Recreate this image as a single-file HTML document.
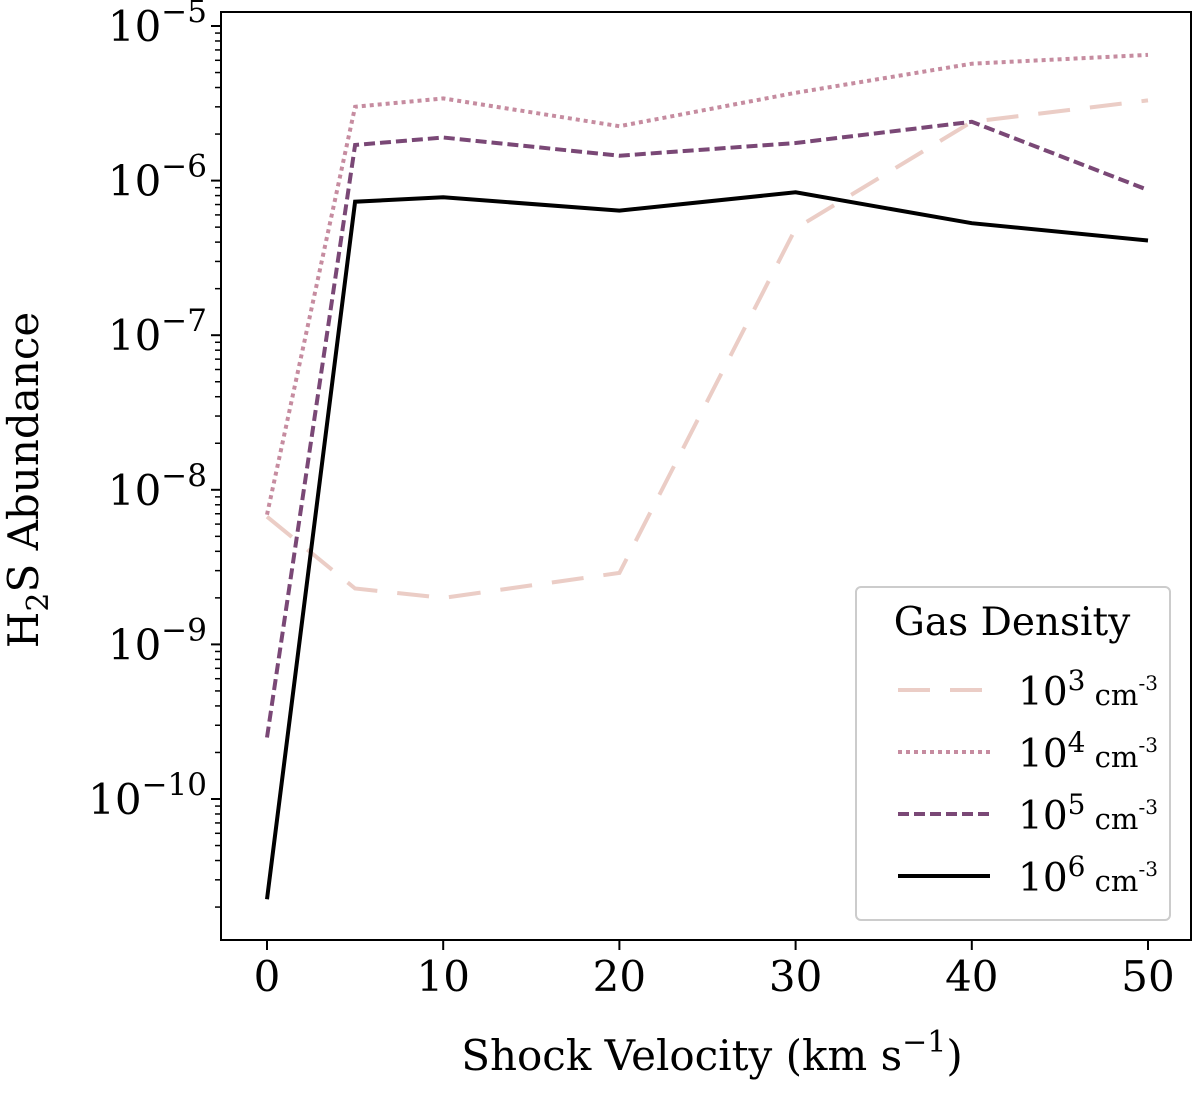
<!DOCTYPE html>
<html><head><meta charset="utf-8"><style>
body{margin:0;background:#fff;}
svg text{font-family:"DejaVu Serif","Liberation Serif",serif;fill:#000;}
</style></head><body>
<svg id="chart" width="1200" height="1090" viewBox="0 0 1200 1090" xmlns="http://www.w3.org/2000/svg">
<g id="marks"></g>
<g id="axes"></g>
</svg>
<script>
const velocities = [0, 5, 10, 20, 30, 40, 50];
const dens1e3 = [6.7e-9, 2.3e-9, 2.0e-9, 2.9e-9, 4.9e-7, 2.4e-6, 3.3e-6];
const dens1e4 = [6.9e-9, 3.0e-6, 3.4e-6, 2.25e-6, 3.7e-6, 5.7e-6, 6.5e-6];
const dens1e5 = [2.5e-10, 1.7e-6, 1.9e-6, 1.45e-6, 1.75e-6, 2.4e-6, 8.7e-7];
const dens1e6 = [2.25e-11, 7.3e-7, 7.8e-7, 6.4e-7, 8.4e-7, 5.3e-7, 4.1e-7];
const xTicks = [0, 10, 20, 30, 40, 50];
const yTickExps = [-10, -9, -8, -7, -6, -5];
const legendExps = ["3", "4", "5", "6"];

const NS = "http://www.w3.org/2000/svg";
const L = 221, R = 1191, T = 12, B = 940;
function xs(v){ return 267 + (v - 0) * (1148 - 267) / 50; }
function ys(v){ return 26 + (-5 - Math.log10(v)) * 154.6; }
function mk(tag, attrs, parent){ const e = document.createElementNS(NS, tag); for (const k in attrs) e.setAttribute(k, attrs[k]); parent.appendChild(e); return e; }

const marks = document.getElementById('marks');
const axes = document.getElementById('axes');
const series = [
  {name:'series-1e3', data:dens1e3, color:'#ebcdc6', dash:'32,20'},
  {name:'series-1e4', data:dens1e4, color:'#c68ca0', dash:'4,4'},
  {name:'series-1e5', data:dens1e5, color:'#7a4876', dash:'11,5'},
  {name:'series-1e6', data:dens1e6, color:'#000000', dash:'none'}
];
series.forEach(s => {
  const pts = velocities.map((v,i) => xs(v).toFixed(1) + ',' + ys(s.data[i]).toFixed(1)).join(' ');
  const pl = mk('polyline', {points:pts, fill:'none', stroke:s.color, 'stroke-width':4, 'stroke-dasharray':s.dash}, marks);
  
  
});

const frame = mk('rect', {x:L, y:T, width:R-L, height:B-T, fill:'none', stroke:'#000', 'stroke-width':2}, axes);



xTicks.forEach(t => {
  const x = xs(t);
  mk('line', {x1:x, y1:B, x2:x, y2:B+10, stroke:'#000', 'stroke-width':2}, axes);
  const tx = mk('text', {x:x, y:B+51, 'font-size':42, 'text-anchor':'middle'}, axes);
  tx.textContent = t;
  
  
});

for (let e = -11; e <= -5; e++) {
  for (let m = 2; m <= 9; m++) {
    const y = ys(m * Math.pow(10, e));
    if (y < T || y > B) continue;
    mk('line', {x1:L-6, y1:y, x2:L, y2:y, stroke:'#000', 'stroke-width':1.5}, axes);
  }
}
yTickExps.forEach(e => {
  const y = ys(Math.pow(10, e));
  mk('line', {x1:L-10, y1:y, x2:L, y2:y, stroke:'#000', 'stroke-width':2}, axes);
  const tx = mk('text', {x:L-14, y:y+15, 'font-size':42, 'text-anchor':'end'}, axes);
  tx.innerHTML = '10<tspan dy="-19" font-size="31">\u2212' + Math.abs(e) + '</tspan>';
  
  
});

const xl = mk('text', {x:712, y:1070, 'font-size':42, 'text-anchor':'middle'}, axes);
xl.innerHTML = 'Shock Velocity  (km s<tspan dy="-18" font-size="30">\u22121</tspan><tspan dy="18">)</tspan>';



const yl = mk('text', {transform:'translate(38,480) rotate(-90)', 'font-size':42, 'text-anchor':'middle'}, axes);
yl.innerHTML = 'H<tspan dy="10" font-size="30">2</tspan><tspan dy="-10">S Abundance</tspan>';



const lg = mk('g', {}, axes);


mk('rect', {x:856, y:587, width:314, height:333, rx:5, fill:'#fff', stroke:'#ccc', 'stroke-width':2, 'fill-opacity':0.85}, lg);
const lt = mk('text', {x:1012, y:635, 'font-size':39, 'text-anchor':'middle'}, lg);
lt.textContent = 'Gas Density';


series.forEach((s, i) => {
  const y = 690 + i * 62;
  const ln = mk('line', {x1:898, y1:y, x2:990, y2:y, stroke:s.color, 'stroke-width':4, 'stroke-dasharray':s.dash}, lg);
  
  
  const tx = mk('text', {x:1018, y:y+15, 'font-size':39}, lg);
  tx.innerHTML = '10<tspan dy="-15" font-size="28">' + legendExps[i] + '</tspan><tspan dy="15" font-size="29"> cm</tspan><tspan dy="-15" font-size="20">-3</tspan>';
  
  
});
</script>
</body></html>
